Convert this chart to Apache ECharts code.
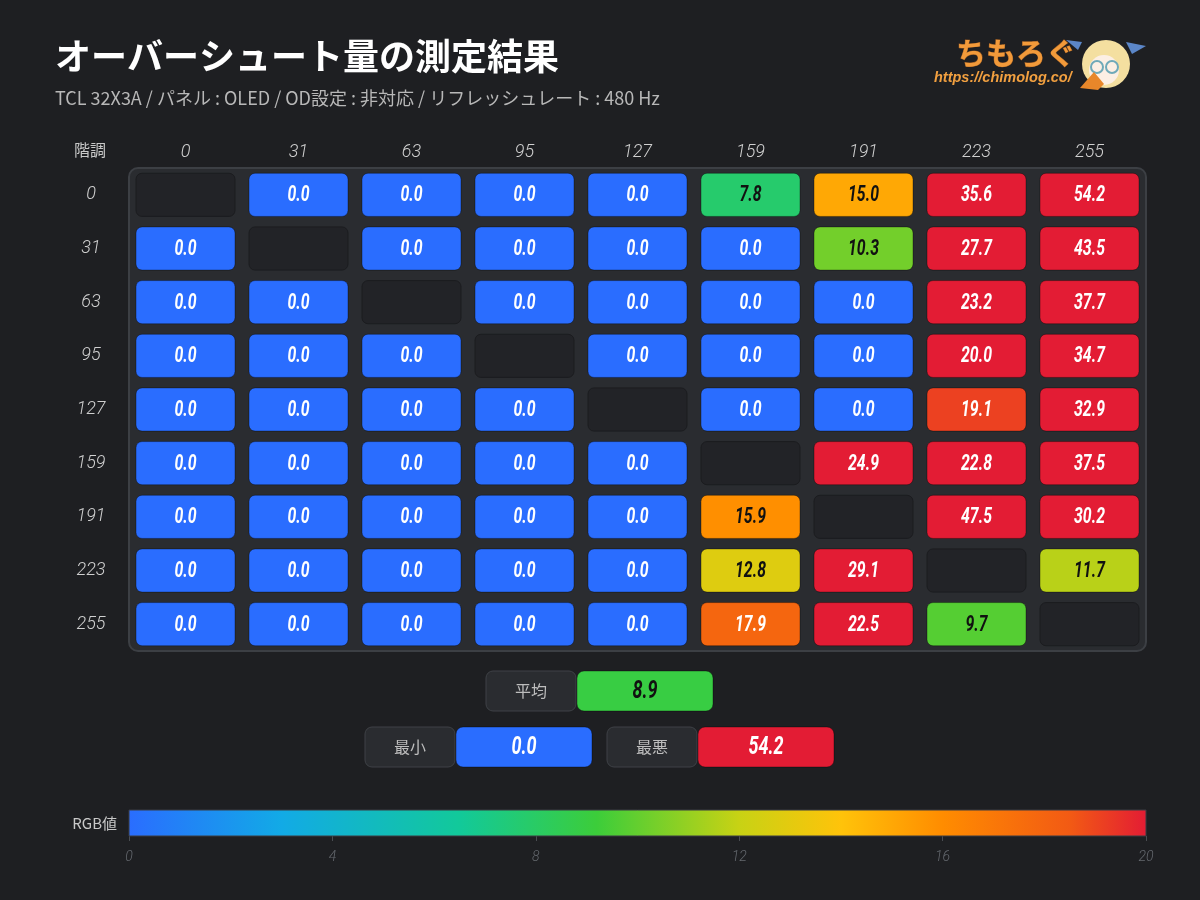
<!DOCTYPE html>
<html>
<head>
<meta charset="utf-8">
<script src="https://cdn.jsdelivr.net/npm/echarts@6/dist/echarts.min.js"></script>
<style>
html, body { margin: 0; background: #1e1f22; }
#main { width: 1200px; height: 900px; }
</style>
</head>
<body>
<div id="main"></div>
<script>
// 階調 (from level = row, to level = column), null = same level
var levels = ['0', '31', '63', '95', '127', '159', '191', '223', '255'];
var row0   = [null, 0.0, 0.0, 0.0, 0.0, 7.8, 15.0, 35.6, 54.2];
var row31  = [0.0, null, 0.0, 0.0, 0.0, 0.0, 10.3, 27.7, 43.5];
var row63  = [0.0, 0.0, null, 0.0, 0.0, 0.0, 0.0, 23.2, 37.7];
var row95  = [0.0, 0.0, 0.0, null, 0.0, 0.0, 0.0, 20.0, 34.7];
var row127 = [0.0, 0.0, 0.0, 0.0, null, 0.0, 0.0, 19.1, 32.9];
var row159 = [0.0, 0.0, 0.0, 0.0, 0.0, null, 24.9, 22.8, 37.5];
var row191 = [0.0, 0.0, 0.0, 0.0, 0.0, 15.9, null, 47.5, 30.2];
var row223 = [0.0, 0.0, 0.0, 0.0, 0.0, 12.8, 29.1, null, 11.7];
var row255 = [0.0, 0.0, 0.0, 0.0, 0.0, 17.9, 22.5, 9.7, null];

// colour scale (RGB値)
var stopValues = [0, 3, 6.5, 9.2, 12, 14, 16, 18.5, 20];
var stopColors = ['#2a6dff', '#12aae6', '#12c99a', '#3ccd3a', '#c8d214', '#ffc30a', '#ff8c00', '#f25a14', '#e31c34'];
var scaleMin = 0, scaleMax = 20, scaleStep = 4;

var rows = [row0, row31, row63, row95, row127, row159, row191, row223, row255];
var cells = [], emptyCells = [], values = [];
rows.forEach(function (r, i) {
    r.forEach(function (v, j) {
        if (v === null) emptyCells.push([j, i]);
        else { cells.push([j, i, v]); values.push(v); }
    });
});
var avg = values.reduce(function (a, b) { return a + b; }, 0) / values.length;
var best = Math.min.apply(null, values);
var worst = Math.max.apply(null, values);

function hex(c) { return [1, 3, 5].map(function (k) { return parseInt(c.substr(k, 2), 16); }); }
function colorAt(v) {
    v = Math.max(scaleMin, Math.min(scaleMax, v));
    for (var k = 1; k < stopValues.length; k++) {
        if (v <= stopValues[k]) {
            var t = (v - stopValues[k - 1]) / (stopValues[k] - stopValues[k - 1]);
            var a = hex(stopColors[k - 1]), b = hex(stopColors[k]);
            return 'rgb(' + a.map(function (x, n) { return Math.round(x + (b[n] - x) * t); }).join(',') + ')';
        }
    }
    return stopColors[stopColors.length - 1];
}
function textColor(v) { return (v >= 5 && v < 17) ? '#111111' : '#ffffff'; }

var numFont = 'italic bold 22px Roboto';
var jpFont = '"Noto Sans CJK JP", "Noto Sans", sans-serif';

function renderCell(params, api) {
    var v = api.value(2);
    var c = api.coord([api.value(0), api.value(1)]);
    var s = api.size([1, 1]);
    var w = s[0] - 14, h = s[1] - 10.5;
    return {
        type: 'group',
        children: [
            { type: 'rect', shape: { x: c[0] - w / 2, y: c[1] - h / 2, width: w, height: h, r: 6 },
              style: { fill: colorAt(v), stroke: 'rgba(0,0,0,0.35)', lineWidth: 1 } },
            { type: 'text', x: c[0], y: c[1] + 1, scaleX: 0.72,
              style: { text: v.toFixed(1), fill: textColor(v), font: numFont, align: 'center', verticalAlign: 'middle' } }
        ]
    };
}

function renderEmpty(params, api) {
    var c = api.coord([api.value(0), api.value(1)]);
    var s = api.size([1, 1]);
    var w = s[0] - 14, h = s[1] - 10.5;
    return { type: 'rect', shape: { x: c[0] - w / 2, y: c[1] - h / 2, width: w, height: h, r: 6 },
             style: { fill: '#222327', stroke: '#1b1c1f', lineWidth: 1 } };
}

function renderBar(params, api) {
    var p0 = api.coord([api.value(0), 0]);
    var p1 = api.coord([api.value(1), 0]);
    var h = api.size([0, 1])[1];
    var stops = stopValues.map(function (v, k) {
        return { offset: (v - scaleMin) / (scaleMax - scaleMin), color: stopColors[k] };
    });
    return { type: 'rect', shape: { x: p0[0], y: p0[1] - h / 2, width: p1[0] - p0[0], height: h },
             style: { fill: new echarts.graphic.LinearGradient(0, 0, 1, 0, stops), stroke: '#3a3d42', lineWidth: 1 } };
}

function statBox(label, v, x, y) {
    return {
        type: 'group', x: x, y: y,
        children: [
            { type: 'rect', shape: { x: 0, y: 0, width: 90, height: 40, r: 7 },
              style: { fill: '#2a2c30', stroke: '#3e4146', lineWidth: 1 } },
            { type: 'text', x: 45, y: 20, style: { text: label, fill: '#bdbdbd', font: '16px ' + jpFont, align: 'center', verticalAlign: 'middle' } },
            { type: 'rect', shape: { x: 91, y: 0, width: 136, height: 40, r: 7 },
              style: { fill: colorAt(v), stroke: 'rgba(0,0,0,0.35)', lineWidth: 1 } },
            { type: 'text', x: 159, y: 21, scaleX: 0.72,
              style: { text: v.toFixed(1), fill: textColor(v), font: 'italic bold 25px Roboto', align: 'center', verticalAlign: 'middle' } }
        ]
    };
}

var myChart = echarts.init(document.getElementById('main'));
myChart.setOption({
    backgroundColor: '#1e1f22',
    title: {
        text: 'オーバーシュート量の測定結果',
        subtext: 'TCL 32X3A / パネル : OLED / OD設定 : 非対応 / リフレッシュレート : 480 Hz',
        left: 50, top: 33, itemGap: 15,
        textStyle: { color: '#ffffff', fontSize: 36, fontWeight: 'bold', fontFamily: jpFont },
        subtextStyle: { color: '#b8b8b8', fontSize: 18, fontFamily: jpFont }
    },
    grid: [
        { left: 129, top: 168, width: 1017, height: 483 },
        { left: 129, top: 810, width: 1017, height: 26 }
    ],
    xAxis: [
        { type: 'category', gridIndex: 0, data: levels, position: 'top',
          axisLine: { show: false }, axisTick: { show: false }, splitLine: { show: false },
          axisLabel: { color: '#d0d0d0', fontSize: 18, fontStyle: 'italic', fontWeight: 300, fontFamily: 'Roboto', margin: 7 } },
        { type: 'value', gridIndex: 1, min: scaleMin, max: scaleMax, interval: scaleStep,
          axisLine: { show: false }, splitLine: { show: false },
          axisTick: { show: true, length: 5, lineStyle: { color: '#4a4d52' } },
          axisLabel: { color: '#65696f', fontSize: 14, fontStyle: 'italic', fontWeight: 300, fontFamily: 'Roboto', margin: 14 } }
    ],
    yAxis: [
        { type: 'category', gridIndex: 0, data: levels, inverse: true,
          axisLine: { show: false }, axisTick: { show: false }, splitLine: { show: false },
          axisLabel: { color: '#d0d0d0', fontSize: 18, fontStyle: 'italic', fontWeight: 300, fontFamily: 'Roboto', margin: 38, align: 'center',
                       padding: [4, 0, 0, 0] } },
        { type: 'category', gridIndex: 1, data: ['RGB値'],
          axisLine: { show: false }, axisTick: { show: false },
          axisLabel: { color: '#c8c8c8', fontSize: 15, fontFamily: jpFont, margin: 12 } }
    ],
    graphic: [
        { type: 'rect', z: 0, shape: { x: 129, y: 168, width: 1017, height: 483, r: 9 },
          style: { fill: '#2a2c30', stroke: '#3c3f44', lineWidth: 2 } },
        { type: 'text', x: 90, y: 150, style: { text: '階調', fill: '#c8c8c8', font: '16px ' + jpFont, align: 'center', verticalAlign: 'middle' } },
        statBox('平均', avg, 486, 671),
        statBox('最小', best, 365, 727),
        statBox('最悪', worst, 607, 727),
        // logo
        { type: 'text', x: 956, y: 53, style: { text: 'ちもろぐ', fill: '#f29a3a', font: 'bold 30px ' + jpFont,
          verticalAlign: 'middle', stroke: '#9a5a22', lineWidth: 0.8 } },
        { type: 'text', x: 934, y: 78, style: { text: 'https://chimolog.co/', fill: '#f2a040', font: 'italic bold 14.5px "Liberation Sans", Arial',
          verticalAlign: 'middle' } },
        { type: 'group', x: 1112, y: 64, children: [
            { type: 'polygon', shape: { points: [[-30, -22], [-46, -24], [-34, -14]] }, style: { fill: '#5b86c8' } },
            { type: 'polygon', shape: { points: [[14, -22], [34, -18], [20, -10]] }, style: { fill: '#5b86c8' } },
            { type: 'circle', shape: { cx: -6, cy: 0, r: 24 }, style: { fill: '#f4dfa0' } },
            { type: 'circle', shape: { cx: -8, cy: 6, r: 15 }, style: { fill: '#fcefe4' } },
            { type: 'circle', shape: { cx: -15, cy: 3, r: 6 }, style: { fill: 'none', stroke: '#6fa9b8', lineWidth: 2 } },
            { type: 'circle', shape: { cx: 0, cy: 3, r: 6 }, style: { fill: 'none', stroke: '#6fa9b8', lineWidth: 2 } },
            { type: 'polygon', shape: { points: [[-32, 24], [-18, 8], [-8, 20], [-14, 26]] }, style: { fill: '#e8872a' } }
        ] }
    ],
    series: [
        { type: 'custom', xAxisIndex: 0, yAxisIndex: 0, data: cells, renderItem: renderCell, z: 3 },
        { type: 'custom', xAxisIndex: 0, yAxisIndex: 0, data: emptyCells, renderItem: renderEmpty, z: 3 },
        { type: 'custom', xAxisIndex: 1, yAxisIndex: 1, data: [[scaleMin, scaleMax, 0]], renderItem: renderBar, z: 3 }
    ]
});
</script>
</body>
</html>
